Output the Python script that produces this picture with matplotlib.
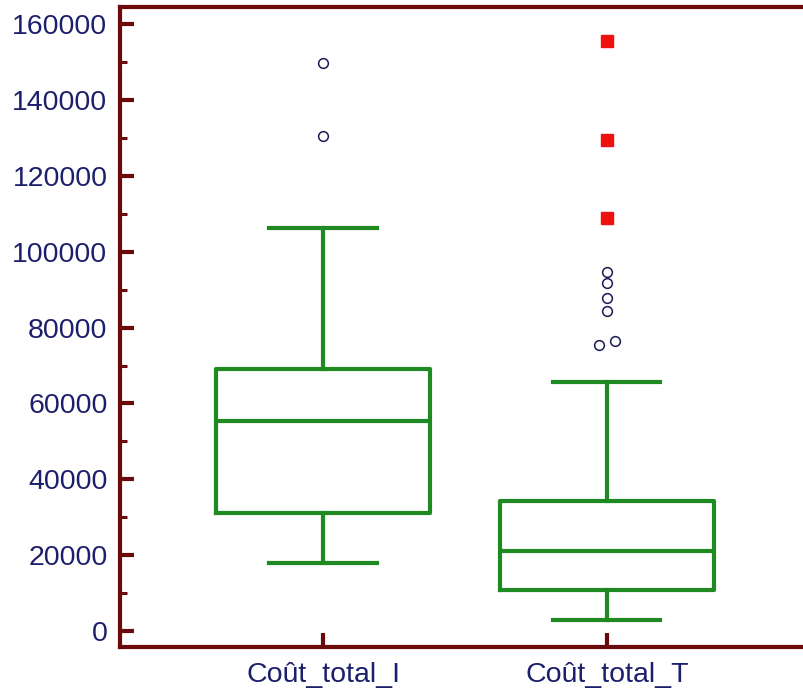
import matplotlib
matplotlib.use("Agg")
import matplotlib.pyplot as plt
from matplotlib.ticker import MultipleLocator
import numpy as np

# Variables and their summary statistics
categories = ["Coût_total_I", "Coût_total_T"]
q1 = [31100, 10800]
median = [55300, 21100]
q3 = [69000, 34300]
whisker_low = [17900, 2900]
whisker_high = [106200, 65600]

# Outside values (between 1.5 and 3 IQR) and far-out values (beyond 3 IQR)
outside_values = [
    [130500, 149700],
    [75400, 76400, 84300, 87800, 91700, 94600],
]
far_out_values = [
    [],
    [108900, 129400, 155500],
]

y_ticks = [0, 20000, 40000, 60000, 80000, 100000, 120000, 140000, 160000]

spine_color = "#6a0a0a"
box_color = "#1f8a22"
text_color = "#1c1f6b"
outlier_edge = "#1a1a55"
far_out_color = "#f01010"

plt.rcParams["font.family"] = ["Liberation Sans", "DejaVu Sans"]

fig = plt.figure(figsize=(8.04, 6.97), dpi=100)
ax = fig.add_axes([120 / 804, 50 / 697, 684 / 804, 640 / 697])

positions = np.arange(1, len(categories) + 1)
stats = []
for i in range(len(categories)):
    stats.append(dict(med=median[i], q1=q1[i], q3=q3[i],
                      whislo=whisker_low[i], whishi=whisker_high[i],
                      fliers=[], label=categories[i]))

line_kw = dict(color=box_color, linewidth=3)
ax.bxp(stats, positions=positions, widths=0.754, capwidths=0.377,
       showfliers=False, boxprops=line_kw, medianprops=line_kw,
       whiskerprops=line_kw, capprops=line_kw)


def spread(values, pos, gap=2000, shift=0.028):
    """Offset nearly coincident points sideways so they stay visible."""
    vals = sorted(values)
    xs = [pos] * len(vals)
    i = 0
    while i < len(vals):
        j = i
        while j + 1 < len(vals) and vals[j + 1] - vals[j] < gap:
            j += 1
        n = j - i + 1
        if n > 1:
            for k in range(n):
                xs[i + k] = pos + (k - (n - 1) / 2) * 2 * shift
        i = j + 1
    return xs, vals


for i, pos in enumerate(positions):
    xs, vals = spread(outside_values[i], pos)
    ax.plot(xs, vals, linestyle="none", marker="o", markersize=7,
            markerfacecolor="white", markeredgecolor=outlier_edge,
            markeredgewidth=1.1, zorder=4)
    if far_out_values[i]:
        ax.plot([pos] * len(far_out_values[i]), far_out_values[i],
                linestyle="none", marker="s", markersize=8.5,
                markerfacecolor=far_out_color, markeredgecolor=far_out_color,
                zorder=4)

ax.set_xlim(0.285, 2.694)
ax.set_ylim(-4200, 164500)

ax.set_yticks(y_ticks)
ax.set_yticklabels([str(v) for v in y_ticks])
ax.yaxis.set_minor_locator(MultipleLocator(10000))
ax.set_xticks(positions)
ax.set_xticklabels(categories)

ax.tick_params(axis="y", which="major", direction="in", length=10,
               width=3, color=spine_color, labelsize=20.5,
               labelcolor=text_color, pad=9)
ax.tick_params(axis="y", which="minor", direction="in", length=5,
               width=2.2, color=spine_color)
ax.tick_params(axis="x", which="major", direction="in", length=10,
               width=3, color=spine_color, labelsize=20.5,
               labelcolor=text_color, pad=11)
ax.tick_params(axis="x", which="minor", bottom=False)

for side in ("left", "bottom", "top"):
    ax.spines[side].set_color(spine_color)
    ax.spines[side].set_linewidth(3)
ax.spines["right"].set_visible(False)

fig.savefig("out.png", dpi=100)
